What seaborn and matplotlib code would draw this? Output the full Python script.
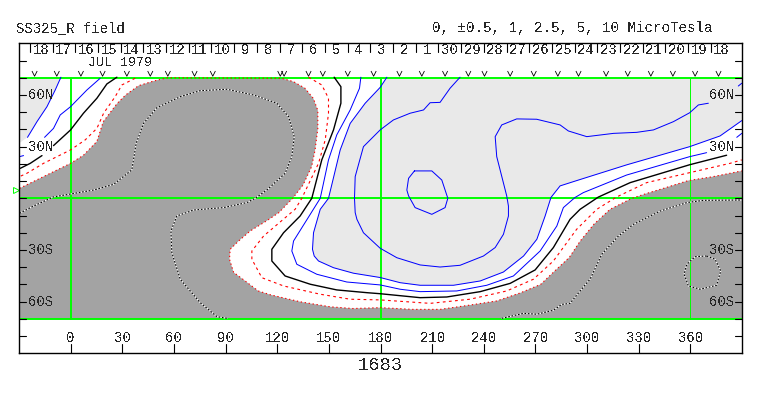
import matplotlib
matplotlib.use("Agg")
import matplotlib.pyplot as plt
import matplotlib.patheffects as pe
import seaborn as sns

sns.set_style("white")
plt.rcParams["font.family"] = ["Liberation Mono", "DejaVu Sans Mono"]
plt.rcParams["text.antialiased"] = False

# --- contour data, longitude / latitude in degrees ---
dark_lon = [-29.6,-15.7,0,7.5,15.3,19,27,32,39.5,48,56,122.7,129.5,136,141,143.6,143.6,142,140,135,129,121,114,104.3,97.6,92.7,92.3,94.7,101.4,109,116,125.6,134,150.8,164,180,199,214.6,232,247.5,261,273,281.4,289.6,296,304,313.3,326,334.8,344.4,358.8,373.3,389.8]
dark_lat = [5.8,12.6,20.3,25,33,44.5,55,60,65.4,68,70,69.7,67.7,64,58,51,40.6,28,18.4,7.7,0,-8.3,-13,-19,-24.8,-29.6,-35.4,-43,-48,-53.8,-56,-58.3,-60.2,-63,-64,-63.5,-64.5,-64.5,-62,-59.6,-55,-50,-42,-34.4,-24.8,-15,-6.4,0,2.9,5.8,10.3,12.6,15.9]

blue10_lon = [226.2,220.4,214.6,208.8,205,197.2,187.5,179.8,170.1,165.3,164.9,165.3,166.3,170.1,179.8,189.5,203,214.6,226.2,239.8,246.6,251.4,254.3,254.3,253.3,247.5,246.6,250.4,259.1,270.7,284.3,289.1,299.8,315.3,328.8,338.5,350.1,359.6,364.6,370.4]
blue10_lat = [70.3,63.9,55.7,55.5,51.3,49.4,45.5,39.7,30,12.6,0,-8.3,-12.2,-20,-29,-34.5,-38.7,-39.9,-38.9,-33.5,-28.6,-20.9,-10.3,-4.5,1.4,24.2,35.8,42.6,46.1,45.9,42.6,39.1,35.8,37.7,38.3,39.7,44.5,49.7,54.2,55.2]
blue10b_lon = [387.8,389.8]
blue10b_lat = [65.2,66.8]

blue5_lon = [183.7,179.8,171.1,162.4,156.6,149.8,145,141.1,140.5,141.5,144,152.7,164.3,179.8,191.4,203,222.4,237.9,251.4,263.1,270.8,275.6,279,284.3,294,322.9,359.6,377.2,389.8]
blue5_lat = [70.3,64.4,55.2,43.5,28.1,0,-6.4,-20,-29.6,-33.5,-36.4,-40.3,-43.5,-46,-49,-50.5,-50.5,-48,-42.8,-33.5,-23.8,-10.3,0.5,7.2,10.3,19.4,30,36.2,45.1]

blue25_lon = [168.6,167.8,162.4,154.6,149.8,145,139.2,129.5,128.5,131.4,143,160.4,179.8,191.4,203,224.3,241.7,257.2,272.7,282.4,286.2,293,297.8,322.9,359.6,369.4]
blue25_lat = [70.3,63.9,51.3,36.8,22.3,0,-9.3,-24.8,-30.6,-38.3,-44.1,-48.6,-50.3,-52.8,-54.2,-53.8,-50.5,-45.1,-30.6,-16.1,-5.4,0.5,3.3,13.5,24.2,26.5]
blue25b_lon = [386.9,389.8]
blue25b_lat = [35.4,37.7]

black_lon = [153.1,157,157,152.7,145.9,140.1,133.3,123.7,116.9,116.9,124.6,139.2,154.6,172.1,179.8,203,218.5,237.9,255.3,269.8,280.4,290.1,295.9,306.5,325,359.6,381]
black_lat = [70.3,64.8,55.2,39.7,22.3,0,-10.3,-20,-29.6,-36.4,-45.1,-49.9,-53.2,-54.8,-55.4,-57.7,-57.3,-54.2,-49.4,-41.6,-28.6,-12.2,-6.4,0.7,9.1,19.5,25]

red_lon = [138.2,145.9,149.8,149.8,147.9,144,134.3,130.4,112.1,105.3,105.3,111.1,123.7,145,162.4,179.8,208.8,232,253.3,268.8,280.4,293.9,305.6,317,334.6,359.6,383,389.8]
red_lat = [70.3,65.8,58.1,49.4,33.9,20.3,0,-6.4,-21.9,-30.6,-35.4,-46.1,-50.9,-55.7,-58.6,-59,-61,-58.6,-53.8,-47,-36.4,-18,-6.4,0.7,9.1,14.9,20.3,22.3]

left_a_lon = [-5.6,-8.9,-13.7,-19.5,-25]
left_a_lat = [70.3,62.9,53.2,44.5,35.4]
left_b_lon = [17.2,9.5,0,-6,-9.9,-15.1]
left_b_lat = [69.7,62.9,53.2,48.4,40.6,35.4]
left_b2_lon = [-27.3,-29.6]
left_b2_lat = [24.8,24.2]
left_k_lon = [26.9,21.1,15.3,7.5,0,-9.9]
left_k_lat = [70.3,66.4,58.1,49.4,39.7,30.6]
left_k2_lon = [-16.6,-23.4,-29.2]
left_k2_lat = [24.8,20.3,17.4]
left_r_lon = [37.5,29.8,25.9,19.2,15.3,8.5,0,-15.7,-25.4,-29.6]
left_r_lat = [69.7,65.8,59,49.4,40.6,33.9,28.1,20.3,14.5,12.6]

ring_lon = [199.7,209.8,215.6,219.1,217.5,209.8,200.1,196.3,195.3,196.3,199.7]
ring_lat = [15.9,15.9,10.6,0,-5.4,-9.3,-5.4,1.4,4.8,11.6,15.9]

zero1_lon = [-29.6,-21.5,-9.9,0,13.4,25,35.6,38.1,42.4,50.1,63.7,75.3,90.8,106.3,119.8,126.6,129.9,128.5,124.6,114,107.2,102.4,88.8,71.4,61.7,58.3,58.8,63.7,75.3,85,90.8]
zero1_lat = [-8.7,-4.5,0.8,2.5,4.8,8.1,16.5,31.9,43.5,52.6,59,62.5,63.3,60,55.2,47.4,35.8,24.2,14.5,4.8,0,-2.5,-5.4,-6.8,-10.3,-19,-31.5,-47,-60.6,-68.7,-69.7]
zero2_lon = [250.4,263.1,270.8,280.4,285.3,290.1,295.9,301.7,308.5,318.2,326.9,342.4,357.9,367.5,389.8]
zero2_lat = [-69.7,-66.8,-67.3,-65,-61.6,-61,-53.8,-47,-32.5,-21.9,-15.1,-7.4,-2.5,-1.2,-1]
zero3_lon = [369.4,362.7,357.9,356.3,358.8,365.6,375.2,377.6,374.3,369.4]
zero3_lat = [-33.5,-33.9,-38.3,-44.1,-50.9,-52.8,-50.5,-42.2,-35.4,-33.5]

obs_lon = [-20.9,-8,6,18.6,32.7,46.3,56.5,72,82.6,121.8,124,138.2,146.5,161,176,191,204,217.5,231,240.4,255.3,269,283,295,311,323.6,337,349.8,362.7,376.3]
day_labels = ["18","17","16","15","14","13","12","11","10","9","8","7","6","5","4","3","2","1","30","29","28","27","26","25","24","23","22","21","20","19","18"]
lon_ticks = [0,30,60,90,120,150,180,210,240,270,300,330,360]
lat_names = {60:"60N",30:"30N",-30:"30S",-60:"60S"}

DARK, LIGHT, GREEN, BLUE, RED = "#a3a3a3", "#e9e9e9", "#00ff00", "#0000ff", "#ff0000"

W, H = 763, 396
fig = plt.figure(figsize=(W/100, H/100), dpi=100, facecolor="white")
ax = fig.add_axes([18.9/W, 1-353.3/H, 723.2/W, 310/H])
ax.set_xlim(-30, 390)
ax.set_ylim(-90, 90)

# filled regions
ax.fill(dark_lon+[390,390,-30,-30], dark_lat+[15.9,-70,-70,5.8], color=DARK, lw=0, zorder=1)
ax.fill(blue5_lon+[390], blue5_lat+[70], color=LIGHT, lw=0, zorder=1)
ax.fill(left_a_lon+[-30,-30], left_a_lat+[31.9,70], color=LIGHT, lw=0, zorder=1)

# reference lines
for v in (0, 180):
    ax.axvline(v, ymin=20/180, ymax=160/180, color=GREEN, lw=1.4, zorder=2)
ax.axvline(360, ymin=20/180, ymax=160/180, color=GREEN, lw=0.7, zorder=2)
for v in (70, 0, -70):
    ax.axhline(v, color=GREEN, lw=1.4, zorder=2)

def curve(xs, ys, color, **kw):
    kw.setdefault("lw", 0.72)
    sns.lineplot(x=xs, y=ys, sort=False, estimator=None, color=color, ax=ax,
                 legend=False, zorder=3, **kw)

for xs, ys in [(blue10_lon,blue10_lat),(blue10b_lon,blue10b_lat),(blue5_lon,blue5_lat),
               (blue25_lon,blue25_lat),(blue25b_lon,blue25b_lat),(left_a_lon,left_a_lat),
               (left_b_lon,left_b_lat),(left_b2_lon,left_b2_lat),(ring_lon,ring_lat)]:
    curve(xs, ys, BLUE)
for xs, ys in [(black_lon,black_lat),(left_k_lon,left_k_lat),(left_k2_lon,left_k2_lat)]:
    curve(xs, ys, "black", lw=1.0)
for xs, ys in [(red_lon,red_lat),(left_r_lon,left_r_lat)]:
    curve(xs, ys, RED, lw=0.8, linestyle=(0, (2.5, 3)))
curve(dark_lon, dark_lat, RED, lw=0.8, linestyle=(0, (1.2, 2.4)))
for xs, ys in [(zero1_lon,zero1_lat),(zero2_lon,zero2_lat),(zero3_lon,zero3_lat)]:
    curve(xs, ys, "white", lw=0.8)
    curve(xs, ys, "black", lw=0.8, linestyle=(0, (1.5, 1.5)))

# observation marks
sns.scatterplot(x=obs_lon, y=[72.4]*len(obs_lon), marker=[(-1,1),(0,-1),(1,1)], s=14,
                facecolor="none", edgecolor="black", linewidth=0.6, ax=ax,
                legend=False, clip_on=False, zorder=4)

# axes ticks
ax.set_xticks([])
ax.set_yticks([])
for s in ax.spines.values():
    s.set_color("black"); s.set_linewidth(1.0); s.set_zorder(6)

tx = ax.get_xaxis_transform()
ty = ax.get_yaxis_transform()
for v in lon_ticks:
    ax.plot([v, v], [0, 9/310], transform=tx, color="black", lw=0.8, zorder=5)
    ax.text(v, -81, str(v), ha="center", va="center", fontsize=10, zorder=5)
for lat in range(-80, 90, 10):
    ax.plot([0, 7/723], [lat, lat], transform=ty, color="black", lw=0.8, zorder=5)
    ax.plot([1, 1-7/723], [lat, lat], transform=ty, color="black", lw=0.8, zorder=5)
for lat, name in lat_names.items():
    ax.text(-24.5, lat, name, ha="left", va="center", fontsize=10, zorder=5)
    ax.text(378, lat, name, ha="center", va="center", fontsize=10, zorder=5)

for i, lab in enumerate(day_labels):
    x = -23.6 + 13.18*i
    ax.plot([x, x], [1, 1-9/310], transform=tx, color="black", lw=0.8, zorder=5)
    ax.text(x + 6.4, 86.3, lab, ha="center", va="center", fontsize=10, zorder=5)

ax.text(10.2, 78.6, "JUL 1979", ha="left", va="center", fontsize=9.6, zorder=5)
ax.plot([-31.7], [5], marker=">", mfc="none", mec=GREEN, ms=4, mew=0.7, clip_on=False, zorder=5)

fig.text(16/W, 1-28/H, "SS325_R field", ha="left", va="center", fontsize=10)
fig.text(431.5/W, 1-28/H, "0, \u00b10.5, 1, 2.5, 5, 10 MicroTesla", ha="left", va="center", fontsize=10.2)
fig.text(380.5/W, 1-366/H, "1683", ha="center", va="center", fontsize=13.5)

fig.savefig("out.png", dpi=100)
